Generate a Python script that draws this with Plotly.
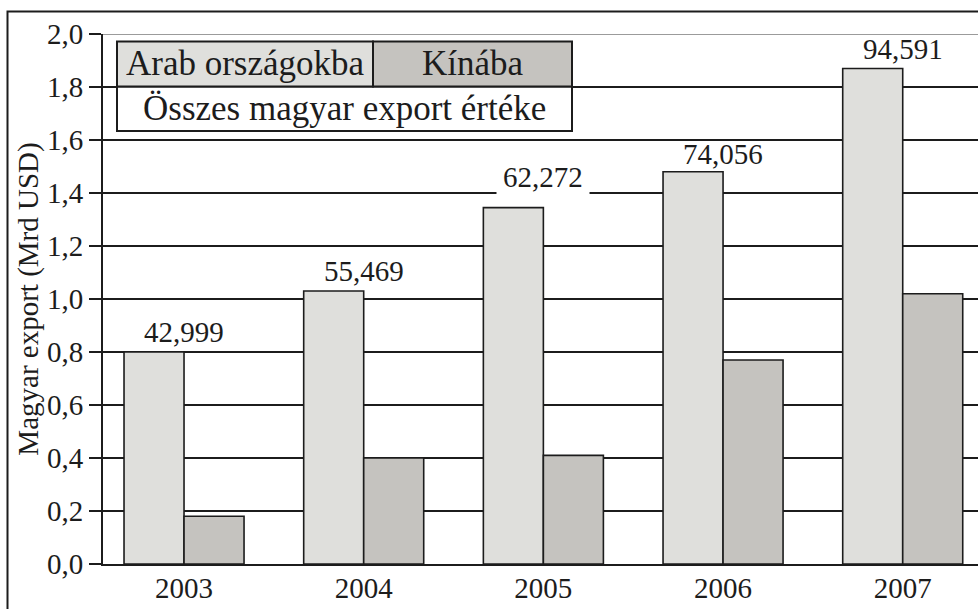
import plotly.graph_objects as go

# ---- data ----
years = ["2003", "2004", "2005", "2006", "2007"]
arab = [0.80, 1.03, 1.345, 1.48, 1.87]
kina = [0.18, 0.40, 0.41, 0.77, 1.02]
total_labels = ["42,999", "55,469", "62,272", "74,056", "94,591"]
y_ticks = [0.0, 0.2, 0.4, 0.6, 0.8, 1.0, 1.2, 1.4, 1.6, 1.8, 2.0]

# ---- style ----
FONT = "Liberation Serif, serif"
FS = 29
FS_LEG = 35
FS_TITLE = 29
LIGHT = "#dfdfdc"
DARK = "#c5c3bf"
INK = "#1c1c1c"
W, H = 978, 609
L, R, T, B = 103, 978, 34, 564

label_yshift = [2, 2, 8, 0, 1]
label_bg = [None, None, "white", None, None]


def px(x):
    return (x - L) / (R - L)


def py(y):
    return (B - y) / (B - T)


idx = list(range(len(years)))

fig = go.Figure()
fig.add_trace(go.Bar(x=idx, y=arab, name="Arab országokba",
                     marker=dict(color=LIGHT, line=dict(color=INK, width=1.6))))
fig.add_trace(go.Bar(x=idx, y=kina, name="Kínába",
                     marker=dict(color=DARK, line=dict(color=INK, width=1.6))))

annotations = []
for i, (v, t) in enumerate(zip(arab, total_labels)):
    a = dict(x=i, y=v, xref="x", yref="y", text=t, showarrow=False,
             yanchor="bottom", xanchor="center", yshift=label_yshift[i],
             font=dict(family=FONT, size=FS, color=INK))
    if label_bg[i]:
        a.update(bgcolor=label_bg[i], borderpad=6)
    annotations.append(a)

# legend table
lx0, lx1, lxm = px(117), px(572), px(373)
ly0, ly1, lym = py(131), py(41.5), py(86.5)
shapes = [
    # top boundary line at 2.0 (thin grey instead of black grid)
    dict(type="line", xref="paper", yref="y", x0=0.002, x1=1, y0=2.0, y1=2.0,
         line=dict(color="white", width=3), layer="above"),
    dict(type="line", xref="paper", yref="y", x0=0, x1=1, y0=2.0, y1=2.0,
         line=dict(color="#7a7a7a", width=1.3), layer="above"),
    dict(type="rect", xref="paper", yref="paper", x0=lx0, x1=lx1, y0=ly0, y1=lym,
         fillcolor="white", line=dict(color=INK, width=2), layer="above"),
    dict(type="rect", xref="paper", yref="paper", x0=lx0, x1=lxm, y0=lym, y1=ly1,
         fillcolor=LIGHT, line=dict(color=INK, width=2), layer="above"),
    dict(type="rect", xref="paper", yref="paper", x0=lxm, x1=lx1, y0=lym, y1=ly1,
         fillcolor=DARK, line=dict(color=INK, width=2), layer="above"),
    # outer frame
    dict(type="rect", xref="paper", yref="paper", x0=px(7.5), x1=px(1000),
         y0=py(640), y1=py(11.5), fillcolor="rgba(0,0,0,0)",
         line=dict(color=INK, width=2)),
]
legend_font = dict(family=FONT, size=FS_LEG, color=INK)
annotations += [
    dict(xref="paper", yref="paper", x=(lx0 + lxm) / 2, y=(lym + ly1) / 2,
         xanchor="center", yanchor="middle",
         text="Arab országokba", showarrow=False, font=legend_font),
    dict(xref="paper", yref="paper", x=(lxm + lx1) / 2, y=(lym + ly1) / 2,
         xanchor="center", yanchor="middle",
         text="Kínába", showarrow=False, font=legend_font),
    dict(xref="paper", yref="paper", x=(lx0 + lx1) / 2, y=(ly0 + lym) / 2,
         xanchor="center", yanchor="middle",
         text="Összes magyar export értéke", showarrow=False, font=legend_font),
]

fig.update_layout(
    width=W, height=H,
    margin=dict(l=L, r=W - R, t=T, b=H - B),
    paper_bgcolor="white", plot_bgcolor="white",
    separators=", ",
    barmode="group", bargap=0.332, bargroupgap=0,
    showlegend=False,
    font=dict(family=FONT, size=FS, color=INK),
    shapes=shapes, annotations=annotations,
)
fig.update_xaxes(
    range=[-0.451, 4.419], tickvals=idx, ticktext=years,
    showline=True, linecolor=INK, linewidth=2,
    ticks="", showgrid=False, zeroline=False,
    tickfont=dict(family=FONT, size=FS, color=INK),
    ticklabelstandoff=-3,
)
fig.update_yaxes(
    range=[0, 2.0], tickvals=y_ticks, tickformat=".1f",
    showline=True, linecolor=INK, linewidth=2,
    ticks="outside", ticklen=12, tickwidth=2, tickcolor=INK,
    showgrid=True, gridcolor=INK, gridwidth=2, zeroline=False,
    tickfont=dict(family=FONT, size=FS, color=INK),
    title=dict(text="Magyar export (Mrd USD)", standoff=0,
               font=dict(family=FONT, size=FS_TITLE, color=INK)),
)

fig.write_html("out.html", config={"displayModeBar": False},
               post_script="document.body.style.margin='0';")
